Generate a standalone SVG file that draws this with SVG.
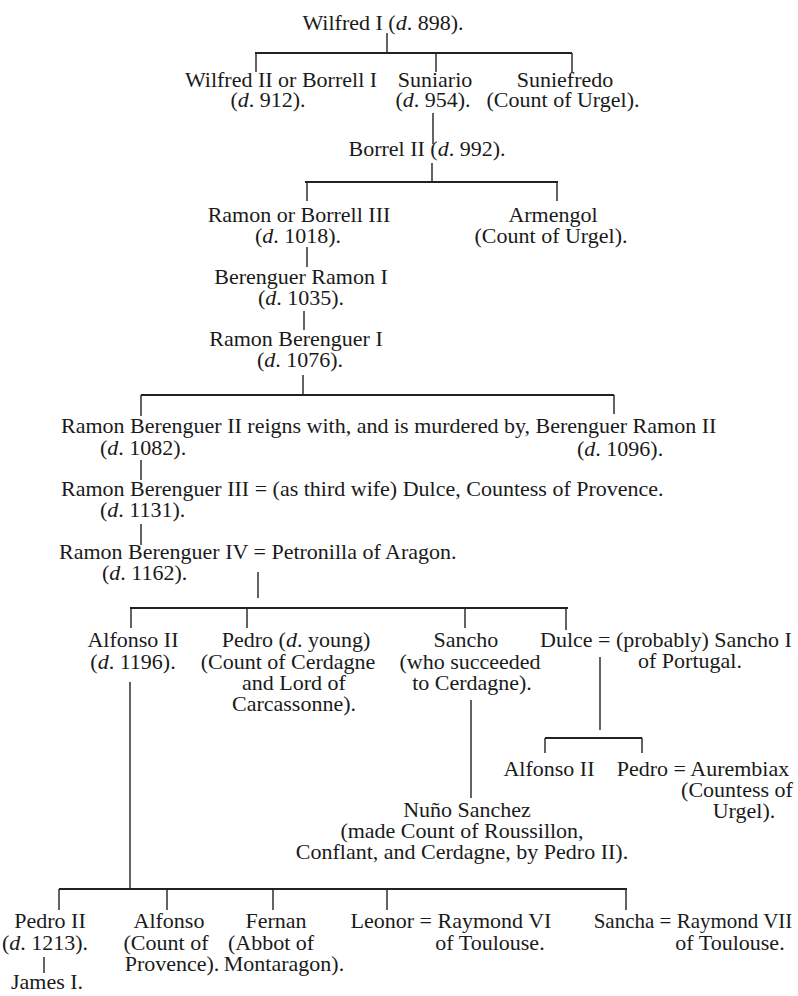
<svg xmlns="http://www.w3.org/2000/svg" width="798" height="996" viewBox="0 0 798 996">
<style>
text{font-family:"Liberation Serif","Times New Roman",serif;font-size:22px;fill:#1a1a1a}
.m{text-anchor:middle}
.i{font-style:italic}
.c path{stroke:#222;stroke-width:1.4;fill:none}
.c path.h{stroke-width:1.9}
</style>
<rect width="798" height="996" fill="#ffffff"/>
<g class="c" id="connectors">
<path d="M387 33V53"/>
<path class="h" d="M255 53H572"/>
<path d="M256 53V72M436 53V72M572 53V72"/>
<path d="M433 113V144"/>
<path d="M432 163V182"/>
<path class="h" d="M305 182H558"/>
<path d="M307 182V201M557 182V201"/>
<path d="M307 247V267"/>
<path d="M304 311V330"/>
<path d="M303 375V395"/>
<path class="h" d="M141 395H614"/>
<path d="M141 395V416M614 395V414"/>
<path d="M141 460V480"/>
<path d="M141 524V545"/>
<path d="M258 572V598"/>
<path class="h" d="M130 608H568"/>
<path d="M131 608V628M247 608V628M465 608V628M566 608V630"/>
<path d="M130 682V889"/>
<path d="M471 700V798"/>
<path d="M600 657V730"/>
<path class="h" d="M545 738H642"/>
<path d="M545 738V753M642 738V753"/>
<path class="h" d="M59 889H627"/>
<path d="M59 889V910M167 889V910M273 889V910M387 889V910M626 889V910"/>
<path d="M44 957V973"/>
</g>
<g id="wilfred1"><text class="m" x="383" y="30">Wilfred I (<tspan class="i">d</tspan>. 898).</text></g>
<g id="wilfred2"><text class="m"><tspan x="281" y="87">Wilfred II or Borrell I</tspan><tspan x="268" y="107">(<tspan class="i">d</tspan>. 912).</tspan></text></g>
<g id="suniario"><text class="m"><tspan x="435" y="87">Suniario</tspan><tspan x="433" y="107">(<tspan class="i">d</tspan>. 954).</tspan></text></g>
<g id="suniefredo"><text class="m"><tspan x="565" y="87">Suniefredo</tspan><tspan x="563" y="107">(Count of Urgel).</tspan></text></g>
<g id="borrel2"><text class="m" x="427" y="156">Borrel II (<tspan class="i">d</tspan>. 992).</text></g>
<g id="ramon-borrell3"><text class="m"><tspan x="299" y="222">Ramon or Borrell III</tspan><tspan x="298" y="243">(<tspan class="i">d</tspan>. 1018).</tspan></text></g>
<g id="armengol"><text class="m"><tspan x="553" y="222">Armengol</tspan><tspan x="551" y="243">(Count of Urgel).</tspan></text></g>
<g id="berenguer-ramon1"><text class="m"><tspan x="301" y="284">Berenguer Ramon I</tspan><tspan x="301" y="305">(<tspan class="i">d</tspan>. 1035).</tspan></text></g>
<g id="ramon-berenguer1"><text class="m"><tspan x="296" y="346">Ramon Berenguer I</tspan><tspan x="300" y="367">(<tspan class="i">d</tspan>. 1076).</tspan></text></g>
<g id="ramon-berenguer2"><text><tspan x="61" y="433">Ramon Berenguer II reigns with, and is murdered by, Berenguer Ramon II</tspan><tspan x="100" y="455">(<tspan class="i">d</tspan>. 1082).</tspan><tspan x="577" y="456">(<tspan class="i">d</tspan>. 1096).</tspan></text></g>
<g id="ramon-berenguer3"><text><tspan x="61" y="496">Ramon Berenguer III = (as third wife) Dulce, Countess of Provence.</tspan><tspan x="100" y="517">(<tspan class="i">d</tspan>. 1131).</tspan></text></g>
<g id="ramon-berenguer4"><text><tspan x="59" y="559">Ramon Berenguer IV = Petronilla of Aragon.</tspan><tspan x="102" y="580">(<tspan class="i">d</tspan>. 1162).</tspan></text></g>
<g id="alfonso2"><text class="m"><tspan x="133" y="647">Alfonso II</tspan><tspan x="133" y="669">(<tspan class="i">d</tspan>. 1196).</tspan></text></g>
<g id="pedro"><text class="m"><tspan x="296" y="647">Pedro (<tspan class="i">d</tspan>. young)</tspan><tspan x="288" y="669">(Count of Cerdagne</tspan><tspan x="294" y="690">and Lord of</tspan><tspan x="294" y="711">Carcassonne).</tspan></text></g>
<g id="sancho"><text class="m"><tspan x="466" y="647">Sancho</tspan><tspan x="470" y="669">(who succeeded</tspan><tspan x="472" y="690">to Cerdagne).</tspan></text></g>
<g id="dulce"><text><tspan x="540" y="647">Dulce = (probably) Sancho I</tspan><tspan x="638" y="668">of Portugal.</tspan></text></g>
<g id="alfonso2b"><text class="m" x="549" y="776">Alfonso II</text></g>
<g id="pedro-aurembiax"><text class="m"><tspan x="703" y="776">Pedro = Aurembiax</tspan><tspan x="737" y="797">(Countess of</tspan><tspan x="744" y="818">Urgel).</tspan></text></g>
<g id="nuno"><text class="m"><tspan x="467" y="817">Nuño Sanchez</tspan><tspan x="462" y="838">(made Count of Roussillon,</tspan><tspan x="462" y="859">Conflant, and Cerdagne, by Pedro II).</tspan></text></g>
<g id="pedro2"><text class="m"><tspan x="50" y="928">Pedro II</tspan><tspan x="45" y="950">(<tspan class="i">d</tspan>. 1213).</tspan></text></g>
<g id="james1"><text class="m" x="47" y="989">James I.</text></g>
<g id="alfonso"><text class="m"><tspan x="169" y="928">Alfonso</tspan><tspan x="166" y="950">(Count of</tspan><tspan x="172" y="971">Provence).</tspan></text></g>
<g id="fernan"><text class="m"><tspan x="276" y="928">Fernan</tspan><tspan x="271" y="950">(Abbot of</tspan><tspan x="284" y="971">Montaragon).</tspan></text></g>
<g id="leonor"><text class="m"><tspan x="451" y="928">Leonor = Raymond VI</tspan><tspan x="490" y="950">of Toulouse.</tspan></text></g>
<g id="sancha"><text class="m"><tspan x="693" y="928" style="font-size:21px">Sancha = Raymond VII</tspan><tspan x="730" y="950">of Toulouse.</tspan></text></g>
</svg>
